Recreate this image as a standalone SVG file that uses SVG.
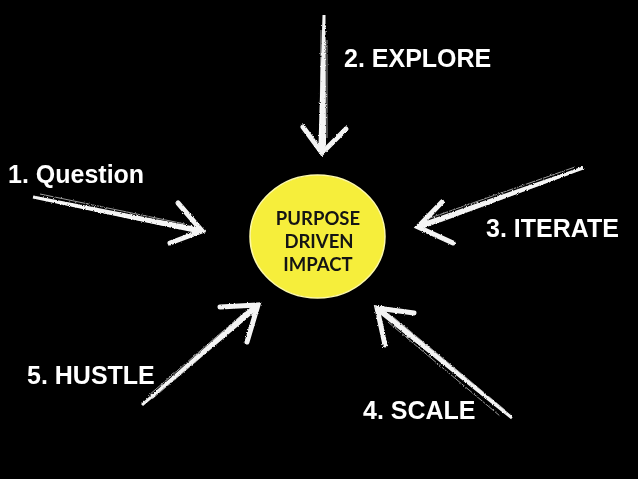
<svg xmlns="http://www.w3.org/2000/svg" width="638" height="479" viewBox="0 0 638 479">
<style>
.lbl{font-family:"Liberation Sans",Arial,sans-serif;font-weight:bold;font-size:25px;fill:#ffffff}
.ctr{font-family:Lato,"Open Sans",sans-serif;font-weight:700;font-size:18.5px;fill:#141414;text-anchor:middle}
.shaft{fill:#f4f4f4}
.head{fill:none;stroke:#f4f4f4;stroke-width:5;stroke-linejoin:miter;stroke-linecap:round}
.scratch{fill:none;stroke:#ffffff;stroke-width:1;opacity:0.6}
</style>
<defs>
<filter id="chalk" x="-20%" y="-20%" width="140%" height="140%">
<feTurbulence type="fractalNoise" baseFrequency="0.9" numOctaves="2" seed="4" result="n"/>
<feDisplacementMap in="SourceGraphic" in2="n" scale="2.5" xChannelSelector="R" yChannelSelector="G"/>
</filter>
</defs>
<rect x="0" y="0" width="638" height="479" fill="#000000"/>
<g id="connectors" filter="url(#chalk)">
<g id="arrow-question">
<polygon class="shaft" points="33.3,195.5 196.6,226.9 202,231 195.4,232.7 32.7,198.5"/>
<path class="scratch" d="M40,194 L185,224 M45,200 L180,229"/>
<polyline class="head" points="178,203 202,231 170,243"/>
</g>
<g id="arrow-explore">
<polygon class="shaft" points="322.5,15 325.5,15 326,145 322,153 318.5,145"/>
<path class="scratch" d="M321,30 L320,140 M327,40 L327,138"/>
<polyline class="head" points="303,127 322,153 346,129"/>
</g>
<g id="arrow-iterate">
<polygon class="shaft" points="582.5,166.6 422.7,222.2 418,227 424.7,227.8 583.5,169.4"/>
<path class="scratch" d="M575,167 L430,218 M570,174 L440,222"/>
<polyline class="head" points="442,202 418,227 453,243"/>
</g>
<g id="arrow-scale">
<polygon class="shaft" points="512.9,416.8 383.6,309.5 377,308 379.8,314.1 511.1,419.2"/>
<path class="scratch" d="M505,410 L392,316 M500,416 L388,322"/>
<polyline class="head" points="414,313 377,308 385,345"/>
</g>
<g id="arrow-hustle">
<polygon class="shaft" points="141,403.9 251.5,306.6 258,305 255.5,311.2 143,406.1"/>
<path class="scratch" d="M148,396 L245,312 M152,399 L247,318"/>
<polyline class="head" points="220,307 258,305 247,342"/>
</g>
</g>
<g id="node-center">
<ellipse cx="317.5" cy="236.5" rx="67.5" ry="61.5" fill="#f6ee3b" stroke="#fdf9a8" stroke-width="1.5"/>
<text class="ctr" x="318" y="225">PURPOSE</text>
<text class="ctr" x="319" y="248">DRIVEN</text>
<text class="ctr" x="318" y="271">IMPACT</text>
</g>
<g id="label-question"><text class="lbl" x="8" y="183">1. Question</text></g>
<g id="label-explore"><text class="lbl" x="344" y="67">2. EXPLORE</text></g>
<g id="label-iterate"><text class="lbl" x="486" y="237">3. ITERATE</text></g>
<g id="label-scale"><text class="lbl" x="363" y="419">4. SCALE</text></g>
<g id="label-hustle"><text class="lbl" x="27" y="384">5. HUSTLE</text></g>
</svg>
